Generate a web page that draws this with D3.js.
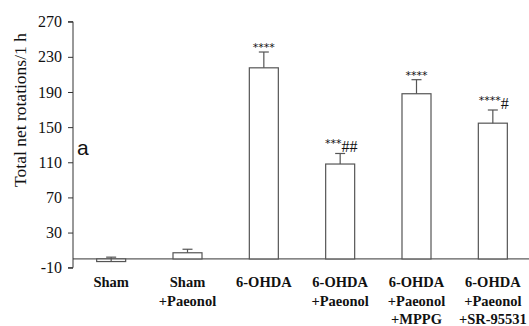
<!DOCTYPE html>
<html>
<head>
<meta charset="utf-8">
<script src="https://cdn.jsdelivr.net/npm/d3@7"></script>
<style>
  body { margin: 0; background: #fff; }
  svg { display: block; }
</style>
</head>
<body>
<div id="chart"></div>
<script>
  var width = 529, height = 326;

  // groups (label lines) and readings
  var groups = ["Sham", "Sham+Paeonol", "6-OHDA", "6-OHDA+Paeonol", "6-OHDA+Paeonol+MPPG", "6-OHDA+Paeonol+SR-95531"];
  var groupLines = [["Sham"], ["Sham", "+Paeonol"], ["6-OHDA"], ["6-OHDA", "+Paeonol"], ["6-OHDA", "+Paeonol", "+MPPG"], ["6-OHDA", "+Paeonol", "+SR-95531"]];
  var means = [-3, 7, 217.5, 108, 188, 154.5];
  var sems = [5, 4, 18, 12, 16, 15];
  var stars = ["", "", "****", "***", "****", "****"];
  var hashes = ["", "", "", "##", "", "#"];
  var yTicks = [-10, 30, 70, 110, 150, 190, 230, 270];

  var serif = "'Liberation Serif', 'Times New Roman', serif";

  var svg = d3.select("#chart").append("svg")
    .attr("width", width).attr("height", height);

  var x = d3.scaleBand().domain(groups).range([73, 531])
    .paddingInner(0.62).paddingOuter(0.31);
  var y = d3.scaleLinear().domain([-10, 270]).range([267.7, 21.7]);

  // y axis
  var yAxis = svg.append("g").attr("transform", "translate(73,0)")
    .call(d3.axisLeft(y).tickValues(yTicks).tickSize(5).tickPadding(6)
      .tickFormat(function(d) { return String(d); }));
  yAxis.select(".domain").attr("stroke", "#333").attr("d", "M-5," + y(270) + "H0V" + y(-10) + "H-5");
  yAxis.selectAll(".tick line").attr("stroke", "#333");
  yAxis.selectAll(".tick text")
    .style("font-family", serif)
    .style("font-size", "16px").attr("fill", "#111");

  // zero line
  svg.append("line")
    .attr("x1", 73).attr("x2", width)
    .attr("y1", y(0)).attr("y2", y(0))
    .attr("stroke", "#333").attr("stroke-width", 1);

  // bars
  var bw = x.bandwidth();
  svg.selectAll(".bar").data(groups).enter().append("rect")
    .attr("class", "bar")
    .attr("x", function(d) { return x(d); })
    .attr("width", bw)
    .attr("y", function(d, i) { return Math.min(y(means[i]), y(0)); })
    .attr("height", function(d, i) { return Math.abs(y(means[i]) - y(0)); })
    .attr("fill", "#fff").attr("stroke", "#555").attr("stroke-width", 1.2);

  // error bars
  var eb = svg.append("g").attr("stroke", "#555").attr("stroke-width", 1.2);
  groups.forEach(function(g, i) {
    var cx = x(g) + bw / 2;
    var top = y(means[i] + sems[i]);
    eb.append("line").attr("x1", cx).attr("x2", cx)
      .attr("y1", y(means[i])).attr("y2", top);
    eb.append("line").attr("x1", cx - 5).attr("x2", cx + 5)
      .attr("y1", top).attr("y2", top);
  });

  // significance marks
  groups.forEach(function(g, i) {
    if (!stars[i]) return;
    var cx = x(g) + bw / 2;
    var top = y(means[i] + sems[i]);
    var t = svg.append("text")
      .attr("x", cx + (hashes[i] ? 1 : 0))
      .attr("y", top - 1)
      .attr("text-anchor", "middle")
      .attr("fill", "#111");
    t.append("tspan").text(stars[i])
      .style("font-family", "'DejaVu Sans', sans-serif")
      .style("font-size", "11px")
      .attr("dy", hashes[i] ? -5 : 0);
    if (hashes[i]) {
      t.append("tspan").text(hashes[i])
        .style("font-family", serif)
        .style("font-size", "16px").attr("dy", 5);
    }
  });

  // category labels
  groups.forEach(function(g, i) {
    var cx = x(g) + bw / 2;
    var t = svg.append("text")
      .attr("text-anchor", "middle")
      .style("font-family", serif)
      .style("font-weight", "bold").style("font-size", "14.5px")
      .attr("fill", "#111");
    groupLines[i].forEach(function(line, j) {
      t.append("tspan").attr("x", cx).attr("y", 287 + j * 18.5).text(line);
    });
  });

  // y label
  svg.append("text")
    .attr("transform", "translate(26,110) rotate(-90)")
    .attr("text-anchor", "middle")
    .style("font-family", serif)
    .style("font-size", "17.5px").attr("fill", "#111")
    .text("Total net rotations/1 h");

  // panel letter
  svg.append("text")
    .attr("x", 77).attr("y", 155)
    .style("font-family", "'Liberation Sans', Arial, sans-serif")
    .style("font-size", "21px").attr("fill", "#111")
    .text("a");
</script>
</body>
</html>
